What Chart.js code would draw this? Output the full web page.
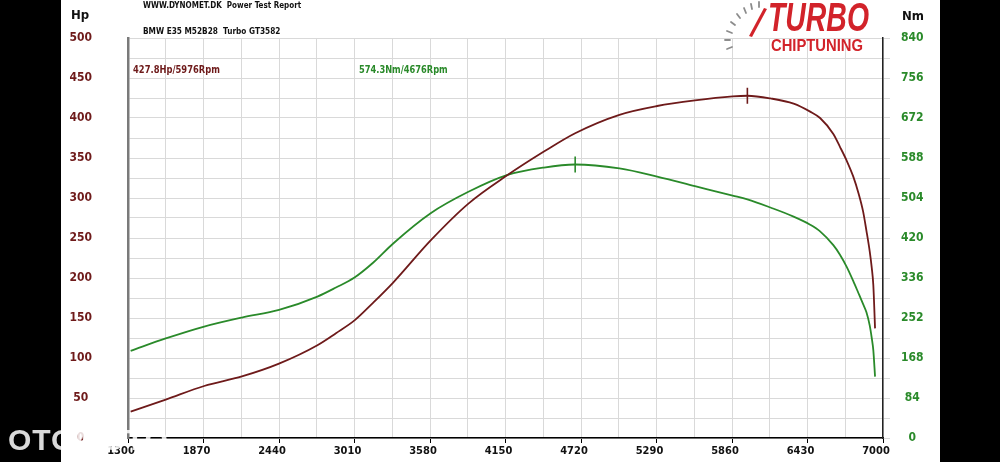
<!DOCTYPE html>
<html>
<head>
<meta charset="utf-8">
<script src="https://cdn.jsdelivr.net/npm/chart.js@4.4.0/dist/chart.umd.min.js"></script>
<style>
  html, body { margin: 0; padding: 0; background: #000; }
  body { width: 1000px; height: 462px; position: relative; overflow: hidden; }
  #sheet { position: absolute; left: 61px; top: 0; width: 879px; height: 462px; background: #fff; }
  .txt { position: absolute; white-space: nowrap; font-family: 'DejaVu Sans Condensed', 'DejaVu Sans', sans-serif; font-weight: bold; transform-origin: left top; }
  .logo { position: absolute; white-space: nowrap; font-family: 'Liberation Sans', Arial, sans-serif; font-weight: bold; color: #d2232a; transform-origin: left top; }
</style>
</head>
<body>
<div id="sheet"><canvas id="dynoChart"></canvas></div>

<div class="txt" style="left:143px; top:0px; font-size:9px; line-height:11px; color:#111; transform:scaleX(0.89);">WWW.DYNOMET.DK&nbsp; Power Test Report</div>
<div class="txt" style="left:143px; top:26px; font-size:9px; line-height:11px; color:#111; transform:scaleX(0.91);">BMW E35 M52B28&nbsp; Turbo GT3582</div>
<div class="txt" style="left:71px; top:7px; font-size:13px; line-height:16px; color:#111;">Hp</div>
<div class="txt" style="left:902px; top:8px; font-size:13px; line-height:16px; color:#111;">Nm</div>
<div class="txt" id="hpNote" style="left:133px; top:64px; font-size:10px; line-height:12px; color:#6e1a1a; transform:scaleX(0.93);"></div>
<div class="txt" id="nmNote" style="left:359px; top:64px; font-size:10px; line-height:12px; color:#2a8a2a; transform:scaleX(0.92);"></div>

<svg style="position:absolute; left:720px; top:0;" width="60" height="60">
  <g stroke="#8c8c8c" stroke-width="1.8" stroke-linecap="round">
    <line x1="7" y1="49" x2="12" y2="47"/>
    <line x1="5" y1="40" x2="10" y2="40"/>
    <line x1="7" y1="31" x2="12" y2="33"/>
    <line x1="11" y1="22" x2="15" y2="25"/>
    <line x1="17" y1="14" x2="20" y2="18"/>
    <line x1="24" y1="8" x2="26" y2="13"/>
    <line x1="31" y1="4" x2="32" y2="9"/>
    <line x1="39" y1="2" x2="39" y2="7"/>
  </g>
  <polygon points="29,36 44,8 47,9 32,37" fill="#d2232a"/>
</svg>
<div class="logo" style="left:768px; top:-3px; font-size:40px; line-height:40px; font-style:italic; transform:scaleX(0.71);">TURBO</div>
<div class="logo" style="left:771px; top:37px; font-size:17px; line-height:18px; transform:scaleX(0.87);">CHIPTUNING</div>
<div class="txt" style="left:8px; top:424px; font-family:'Liberation Sans', Arial, sans-serif; font-size:30px; line-height:32px; color:#fff; opacity:0.85; letter-spacing:1px;">OTOMOTO</div>

<script>
// engine speed (rpm) and the two measured curves
const rpm = [1320, 1585, 1875, 2160, 2440, 2730, 2870, 3010, 3150, 3300, 3585, 3870, 4160, 4440, 4676, 5010, 5295, 5580, 5865, 5976, 6150, 6325, 6450, 6525, 6625, 6675, 6725, 6775, 6815, 6850, 6875, 6900, 6915, 6927, 6940];
const hp = [33, 48, 65, 77, 93, 116, 131, 147, 169, 194, 247, 293, 328, 358, 381, 404, 415, 422, 427, 427.8, 424.5, 418, 408, 400, 380, 364, 347, 327, 306, 283, 259, 233, 213, 191, 137];
const torque = [183, 209, 234, 253, 269, 297, 316, 337, 368, 408, 472, 517, 552, 568, 574.3, 566, 549, 529, 509, 501, 484, 465, 448, 434, 405, 385, 360, 330, 304, 281, 264, 236, 210, 184, 129];

// peak readouts
const peakHp = 427.8, peakHpRpm = 5976;
const peakNm = 574.3, peakNmRpm = 4676;

// axis tick labels
const rpmTicks = [1300, 1870, 2440, 3010, 3580, 4150, 4720, 5290, 5860, 6430, 7000];
const hpTicks = [0, 50, 100, 150, 200, 250, 300, 350, 400, 450, 500];
const nmTicks = [0, 84, 168, 252, 336, 420, 504, 588, 672, 756, 840];

const hpColor = '#6e1a1a';
const nmColor = '#2a8a2a';
const gridColor = '#d9d9d9';
const tickFont = { family: "'DejaVu Sans Condensed', 'DejaVu Sans', sans-serif", weight: 'bold', size: 12 };

document.getElementById('hpNote').textContent = peakHp + 'Hp/' + peakHpRpm + 'Rpm';
document.getElementById('nmNote').textContent = peakNm + 'Nm/' + peakNmRpm + 'Rpm';

// small vertical marks at the two peaks
const peakMarks = {
  id: 'peakMarks',
  afterDatasetsDraw(chart) {
    const ctx = chart.ctx;
    const x = chart.scales.x;
    const marks = [
      [peakHpRpm, chart.scales.y.getPixelForValue(peakHp), hpColor],
      [peakNmRpm, chart.scales.y2.getPixelForValue(peakNm), nmColor]
    ];
    ctx.save();
    ctx.lineWidth = 1.6;
    marks.forEach(m => {
      const px = x.getPixelForValue(m[0]);
      ctx.strokeStyle = m[2];
      ctx.beginPath();
      ctx.moveTo(px, m[1] - 8);
      ctx.lineTo(px, m[1] + 8);
      ctx.stroke();
    });
    ctx.restore();
  }
};

const ctx = document.getElementById('dynoChart').getContext('2d');
new Chart(ctx, {
  type: 'line',
  data: {
    datasets: [
      {
        label: 'Hp',
        data: rpm.map((r, i) => ({ x: r, y: hp[i] })),
        borderColor: hpColor,
        borderWidth: 1.8,
        pointRadius: 0,
        cubicInterpolationMode: 'monotone',
        yAxisID: 'y'
      },
      {
        label: 'Nm',
        data: rpm.map((r, i) => ({ x: r, y: torque[i] })),
        borderColor: nmColor,
        borderWidth: 1.8,
        pointRadius: 0,
        cubicInterpolationMode: 'monotone',
        yAxisID: 'y2'
      }
    ]
  },
  options: {
    responsive: true,
    maintainAspectRatio: false,
    animation: false,
    layout: { padding: { top: 38, left: 0, right: 0, bottom: 0 } },
    plugins: { legend: { display: false }, tooltip: { enabled: false } },
    scales: {
      x: {
        type: 'linear',
        min: rpmTicks[0],
        max: rpmTicks[rpmTicks.length - 1],
        afterFit: s => { s.height = 24; },
        border: { color: '#000', width: 1.5 },
        grid: {
          color: gridColor,
          tickLength: 5,
          tickColor: c => rpmTicks.includes(c.tick && c.tick.value) ? '#000' : 'rgba(0,0,0,0)'
        },
        ticks: {
          stepSize: (rpmTicks[1] - rpmTicks[0]) / 2,
          autoSkip: false,
          maxRotation: 0,
          padding: 2,
          labelOffset: -7,
          color: '#111',
          font: { ...tickFont, size: 11 },
          callback: v => rpmTicks.includes(v) ? String(v) : ''
        }
      },
      y: {
        position: 'left',
        min: hpTicks[0],
        max: hpTicks[hpTicks.length - 1],
        afterFit: s => { s.width = 67; },
        border: { color: '#7a7a7a', width: 2.5 },
        grid: { color: gridColor, tickLength: 34, tickColor: 'rgba(0,0,0,0)' },
        ticks: {
          stepSize: (hpTicks[1] - hpTicks[0]) / 2,
          autoSkip: false,
          padding: 2,
          crossAlign: 'center',
          color: hpColor,
          font: tickFont,
          callback: v => hpTicks.includes(v) ? String(v) : ''
        }
      },
      y2: {
        position: 'right',
        min: nmTicks[0],
        max: nmTicks[nmTicks.length - 1],
        afterFit: s => { s.width = 57; },
        border: { color: '#222', width: 1.5 },
        grid: { drawOnChartArea: false, tickLength: 7, tickColor: gridColor },
        ticks: {
          stepSize: (nmTicks[1] - nmTicks[0]) / 2,
          autoSkip: false,
          padding: 11,
          crossAlign: 'center',
          color: nmColor,
          font: tickFont,
          callback: v => nmTicks.includes(v) ? String(v) : ''
        }
      }
    }
  },
  plugins: [peakMarks]
});
</script>
</body>
</html>
